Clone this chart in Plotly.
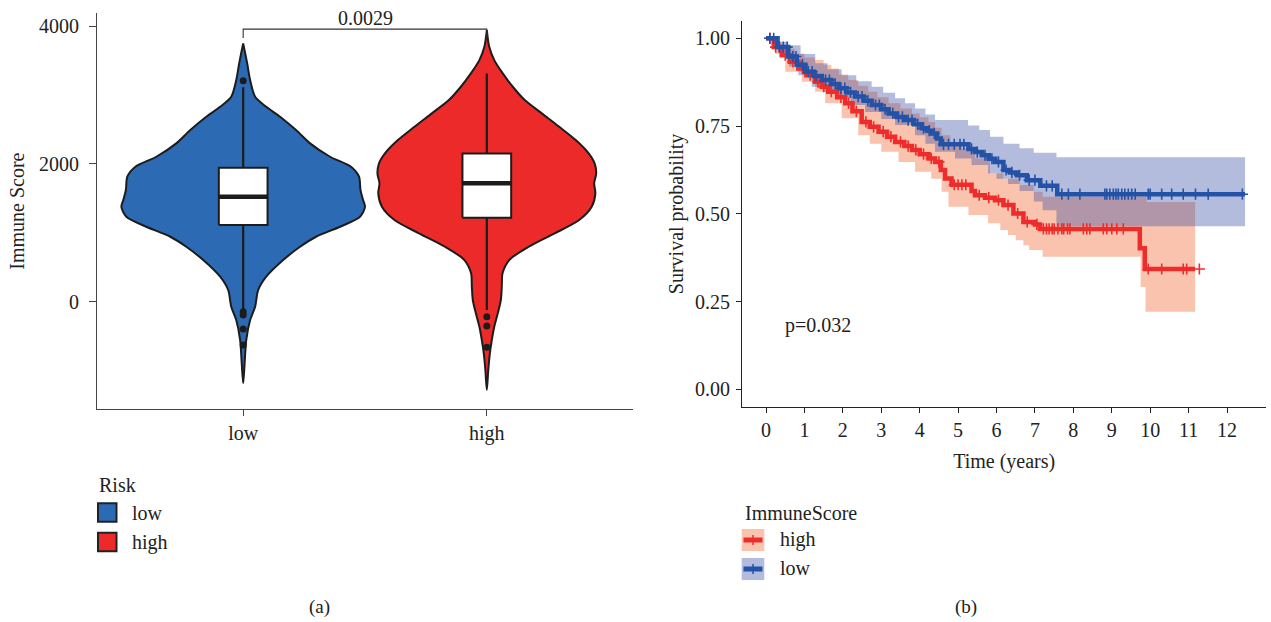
import numpy as np
import plotly.graph_objects as go

W, H = 1271, 622
FONT = "Liberation Serif, Times New Roman, serif"
TXT = "#222222"

# ---------------- (a) Immune score by risk group ----------------
groups = ["low", "high"]
group_pos = [1, 2]
fill_cols = ["#2C6BB3", "#EC2A2A"]

# violin outline: score levels and relative density (shared scale)
low_levels = [-1184, -894, -556, -266, -73, 170, 363, 605, 798, 943, 1088, 1233, 1378,
              1476, 1621, 1814, 1959, 2104, 2298, 2491, 2684, 2829, 2975, 3217, 3459, 3750]
low_density = [0, .012, .025, .057, .098, .123, .189, .328, .467, .598, .795, .959, 1.0,
               .984, .963, .951, .885, .713, .549, .434, .303, .189, .098, .057, .033, 0]
high_levels = [-1281, -991, -749, -556, -363, -168, 25, 218, 412, 605, 798, 992, 1185, 1378,
               1573, 1718, 1863, 2008, 2153, 2346, 2539, 2734, 2927, 3120, 3314, 3507, 3700, 3942]
high_density = [0, .012, .025, .041, .061, .090, .115, .123, .129, .184, .344, .557, .758, .861,
                .891, .881, .898, .885, .836, .730, .594, .451, .311, .213, .131, .061, .020, 0]

# box-plot summaries
q1 = [1113, 1219]
median = [1524, 1718]
q3 = [1944, 2153]
lower_fence = [-120, -120]
upper_fence = [3111, 3314]
low_outliers = [3207, -145, -193, -396, -628]
high_outliers = [-218, -353, -662]

p_wilcox = "0.0029"

# ---------------- (b) Kaplan-Meier by ImmuneScore ----------------
low_time = [0, 0.3, 0.58, 0.8, 1.02, 1.25, 1.45, 1.7, 1.89, 2.1, 2.32, 2.55, 2.75, 3.0, 3.19,
            3.4, 3.62, 3.85, 4.05, 4.2, 4.31, 4.45, 4.55, 5.27, 5.45, 5.62, 5.8, 5.96, 6.18,
            6.35, 6.53, 6.79, 7.14, 7.58, 12.47]
low_surv = [1.0, 0.975, 0.948, 0.925, 0.905, 0.893, 0.881, 0.87, 0.858, 0.846, 0.834, 0.822,
            0.81, 0.798, 0.786, 0.776, 0.767, 0.755, 0.744, 0.737, 0.729, 0.715, 0.698, 0.685,
            0.676, 0.667, 0.657, 0.648, 0.625, 0.618, 0.61, 0.596, 0.58, 0.556, 0.556]
low_up_time = [0, 0.3, 0.58, 0.9, 1.28, 1.6, 1.97, 2.35, 2.75, 3.05, 3.36, 3.62, 3.88, 4.15,
               4.4, 5.26, 5.55, 5.83, 6.18, 6.6, 6.97, 7.56, 12.47]
low_up = [1.0, 0.99, 0.98, 0.955, 0.929, 0.912, 0.895, 0.878, 0.862, 0.845, 0.829, 0.815,
          0.80, 0.783, 0.767, 0.752, 0.739, 0.72, 0.70, 0.687, 0.674, 0.661, 0.661]
low_lo_time = [0, 0.3, 0.6, 0.84, 1.19, 1.5, 1.88, 2.2, 2.58, 3.0, 3.36, 3.88, 4.15, 4.4,
               4.92, 5.35, 5.78, 6.0, 6.3, 6.6, 6.97, 7.2, 7.56, 12.47]
low_lo = [1.0, 0.96, 0.92, 0.895, 0.862, 0.848, 0.83, 0.81, 0.79, 0.77, 0.753, 0.724, 0.70,
          0.677, 0.658, 0.639, 0.615, 0.60, 0.585, 0.565, 0.535, 0.51, 0.465, 0.465]
low_censor = [0.1, 0.2, 0.35, 0.45, 0.55, 0.7, 0.78, 0.95, 1.1, 1.2, 1.3, 1.55, 1.65, 1.8,
              1.95, 2.05, 2.2, 2.4, 2.5, 2.65, 2.85, 2.95, 3.1, 3.3, 3.45, 3.55, 3.7, 3.8,
              3.95, 4.1, 4.25, 4.38, 4.62, 4.75, 4.9, 5.05, 5.15, 5.35, 5.5, 5.7, 5.88, 6.05,
              6.25, 6.4, 6.6, 6.85, 7.0, 7.3, 7.45, 7.70, 7.87, 8.17, 8.82, 8.87, 8.95, 9.04,
              9.11, 9.17, 9.26, 9.34, 9.43, 9.52, 9.61, 9.95, 10.0, 10.30, 10.56, 10.86,
              11.18, 11.51, 12.4]

high_time = [0, 0.2, 0.41, 0.62, 0.84, 1.05, 1.28, 1.45, 1.62, 1.85, 2.06, 2.25, 2.49, 2.7,
             2.93, 3.15, 3.36, 3.6, 3.8, 4.0, 4.23, 4.4, 4.55, 4.66, 4.83, 5.35, 5.44, 5.7,
             5.96, 6.18, 6.44, 6.7, 7.0, 7.13, 9.73, 9.86, 11.17]
high_surv = [1.0, 0.975, 0.952, 0.933, 0.914, 0.895, 0.876, 0.862, 0.848, 0.832, 0.815, 0.792,
             0.762, 0.748, 0.734, 0.72, 0.705, 0.693, 0.682, 0.67, 0.658, 0.648, 0.625, 0.601,
             0.583, 0.565, 0.553, 0.546, 0.539, 0.525, 0.501, 0.477, 0.47, 0.457, 0.402,
             0.343, 0.343]
high_up_time = [0, 0.25, 0.5, 0.75, 1.0, 1.28, 1.5, 1.7, 1.9, 2.14, 2.4, 2.66, 2.9, 3.19, 3.5,
                3.8, 4.0, 4.23, 4.4, 4.57, 4.8, 5.1, 5.44, 5.83, 6.18, 6.6, 6.97, 7.2, 9.91,
                11.17]
high_up = [1.0, 0.98, 0.97, 0.957, 0.945, 0.938, 0.925, 0.914, 0.897, 0.881, 0.865, 0.848,
           0.832, 0.815, 0.80, 0.786, 0.775, 0.762, 0.745, 0.724, 0.705, 0.686, 0.658, 0.615,
           0.60, 0.582, 0.563, 0.549, 0.534, 0.534]
high_lo_time = [0, 0.25, 0.5, 0.93, 1.28, 1.54, 1.97, 2.4, 2.7, 3.0, 3.45, 3.88, 4.3, 4.57,
                4.75, 5.27, 5.78, 6.1, 6.3, 6.5, 6.7, 6.85, 7.2, 9.75, 9.88, 11.17]
high_lo = [1.0, 0.955, 0.905, 0.876, 0.848, 0.815, 0.772, 0.724, 0.70, 0.677, 0.648, 0.62,
           0.60, 0.563, 0.52, 0.497, 0.473, 0.454, 0.44, 0.425, 0.411, 0.397, 0.378, 0.292,
           0.221, 0.221]
high_censor = [0.1, 0.25, 0.35, 0.5, 0.7, 0.8, 0.95, 1.15, 1.35, 1.5, 1.7, 1.95, 2.15, 2.35,
               2.6, 2.8, 3.05, 3.25, 3.5, 3.7, 3.9, 4.1, 4.3, 4.5, 4.9, 5.0, 5.1, 5.2, 5.55,
               5.8, 6.05, 6.3, 6.55, 6.8, 7.05, 7.22, 7.3, 7.37, 7.45, 7.5, 7.6, 7.7, 7.75,
               7.85, 7.91, 8.26, 8.35, 8.43, 8.78, 8.87, 9.0, 9.13, 9.3, 9.95, 10.3, 10.86,
               10.95, 11.28]

p_logrank = "p=0.032"

KM_LINE = {"high": "#EE2C2C", "low": "#2352A6"}
KM_BAND = {"high": "rgba(241,84,24,0.35)", "low": "rgba(41,64,158,0.35)"}

fig = go.Figure()

# ---- violins (panel a) ----
VIOLIN_HALF = 0.5
BOX_HALF = 0.1
OUTLINE = "#1c1c1c"
for pos, lv, dn, col in [(1, low_levels, low_density, fill_cols[0]),
                         (2, high_levels, high_density, fill_cols[1])]:
    lv = np.array(lv, float)
    dn = np.array(dn, float) * VIOLIN_HALF
    xs = np.concatenate([pos + dn, (pos - dn)[::-1]])
    ys = np.concatenate([lv, lv[::-1]])
    fig.add_trace(go.Scatter(x=xs, y=ys, mode="lines", fill="toself", fillcolor=col,
                             line=dict(color=OUTLINE, width=2, shape="spline", smoothing=0.8),
                             xaxis="x", yaxis="y", showlegend=False, hoverinfo="skip"))

# box plots drawn as scatter paths so they sit above the filled violins
for i, pos in enumerate(group_pos):
    # whiskers
    fig.add_trace(go.Scatter(x=[pos, pos, None, pos, pos],
                             y=[lower_fence[i], q1[i], None, q3[i], upper_fence[i]],
                             mode="lines", line=dict(color=OUTLINE, width=2.2),
                             xaxis="x", yaxis="y", showlegend=False, hoverinfo="skip"))
    # box body
    fig.add_trace(go.Scatter(x=[pos - BOX_HALF, pos + BOX_HALF, pos + BOX_HALF,
                                pos - BOX_HALF, pos - BOX_HALF],
                             y=[q1[i], q1[i], q3[i], q3[i], q1[i]],
                             mode="lines", fill="toself", fillcolor="white",
                             line=dict(color=OUTLINE, width=2),
                             xaxis="x", yaxis="y", showlegend=False, hoverinfo="skip"))
    # median
    fig.add_trace(go.Scatter(x=[pos - BOX_HALF, pos + BOX_HALF], y=[median[i], median[i]],
                             mode="lines", line=dict(color=OUTLINE, width=4.5),
                             xaxis="x", yaxis="y", showlegend=False, hoverinfo="skip"))

for pos, outs in [(1, low_outliers), (2, high_outliers)]:
    fig.add_trace(go.Scatter(x=[pos] * len(outs), y=outs, mode="markers",
                             marker=dict(color=OUTLINE, size=7), xaxis="x", yaxis="y",
                             showlegend=False, hoverinfo="skip"))

# significance bracket
br_top, br_tip = 3957, 3826
fig.add_trace(go.Scatter(x=[1, 1, 2, 2], y=[br_tip, br_top, br_top, br_tip], mode="lines",
                         line=dict(color="#333333", width=1.1), xaxis="x", yaxis="y",
                         showlegend=False, hoverinfo="skip"))

# ---- survival curves (panel b) ----
def step_value(times, vals, t):
    idx = np.searchsorted(np.array(times), t, side="right") - 1
    return np.array(vals)[np.clip(idx, 0, len(vals) - 1)]

for key, lt, lo, ut, up in [("high", high_lo_time, high_lo, high_up_time, high_up),
                            ("low", low_lo_time, low_lo, low_up_time, low_up)]:
    fig.add_trace(go.Scatter(x=lt, y=lo, mode="lines", line=dict(width=0, shape="hv"),
                             xaxis="x2", yaxis="y2", showlegend=False, hoverinfo="skip"))
    fig.add_trace(go.Scatter(x=ut, y=up, mode="lines", line=dict(width=0, shape="hv"),
                             fill="tonexty", fillcolor=KM_BAND[key],
                             xaxis="x2", yaxis="y2", showlegend=False, hoverinfo="skip"))

for key, tt, ss, cens in [("high", high_time, high_surv, high_censor),
                          ("low", low_time, low_surv, low_censor)]:
    fig.add_trace(go.Scatter(x=tt, y=ss, mode="lines",
                             line=dict(color=KM_LINE[key], width=4.5, shape="hv"),
                             xaxis="x2", yaxis="y2", showlegend=False, hoverinfo="skip"))
    cy = step_value(tt, ss, np.array(cens))
    fig.add_trace(go.Scatter(x=cens, y=cy, mode="markers",
                             marker=dict(symbol="cross-thin", size=8,
                                         line=dict(color=KM_LINE[key], width=1.6)),
                             xaxis="x2", yaxis="y2", showlegend=False, hoverinfo="skip"))

# ---- axes ----
def px_x(v):
    return v / W

def px_y(v):
    return 1 - v / H

tickfont = dict(family=FONT, size=20, color=TXT)
axis_common = dict(showgrid=False, zeroline=False, showline=True, ticks="outside",
                   tickfont=tickfont, mirror=False)

fig.update_layout(
    width=W, height=H, margin=dict(l=0, r=0, t=0, b=0),
    paper_bgcolor="white", plot_bgcolor="white",
    font=dict(family=FONT, size=20, color=TXT),
    xaxis=dict(domain=[px_x(97), px_x(633)], range=[0.4, 2.6],
               tickvals=group_pos, ticktext=groups, linecolor="#444444", linewidth=1.2,
               tickcolor="#444444", ticklen=6, ticklabelstandoff=0, anchor="y", **axis_common),
    yaxis=dict(domain=[px_y(409), px_y(13.3)], range=[-1557, 4186],
               tickvals=[0, 2000, 4000], linecolor="#444444", linewidth=1.2,
               tickcolor="#444444", ticklen=7, ticklabelstandoff=6, anchor="x",
               title=dict(text="Immune Score", font=dict(family=FONT, size=20, color=TXT),
                          standoff=8), **axis_common),
    xaxis2=dict(domain=[px_x(742.2), px_x(1266.2)], range=[-0.62, 13.02],
                tickvals=list(range(0, 13)), linecolor="#222222", linewidth=1.2,
                tickcolor="#222222", ticklen=5, ticklabelstandoff=0, anchor="y2",
                title=dict(text="Time (years)", font=dict(family=FONT, size=20, color=TXT),
                           standoff=13), **axis_common),
    yaxis2=dict(domain=[px_y(407), px_y(20.75)], range=[-0.05, 1.05],
                tickvals=[0, 0.25, 0.5, 0.75, 1.0], tickformat=".2f",
                linecolor="#222222", linewidth=1.2, tickcolor="#222222", ticklen=5,
                ticklabelstandoff=2, anchor="x2",
                title=dict(text="Survival probability", font=dict(family=FONT, size=20, color=TXT),
                           standoff=6), **axis_common),
)

ann = []
ann.append(dict(x=1.5, y=4118, xref="x", yref="y", text=p_wilcox, showarrow=False,
                font=dict(size=20), xanchor="center", yanchor="middle"))
ann.append(dict(x=0.44, y=0.183, xref="x2", yref="y2", text=p_logrank, showarrow=False,
                font=dict(size=20), xanchor="left", yanchor="middle"))

# legend (a)
ann.append(dict(x=px_x(97), y=px_y(485), xref="paper", yref="paper", text="Risk",
                showarrow=False, xanchor="left", yanchor="middle"))
shapes = []
for lbl, col, yc in [("low", fill_cols[0], 512.5), ("high", fill_cols[1], 542)]:
    shapes.append(dict(type="rect", xref="paper", yref="paper",
                       x0=px_x(98), x1=px_x(116.5), y0=px_y(yc - 9.3), y1=px_y(yc + 9.3),
                       fillcolor=col, line=dict(color="#222222", width=2)))
    ann.append(dict(x=px_x(130), y=px_y(yc), xref="paper", yref="paper", text=lbl,
                    showarrow=False, xanchor="left", yanchor="middle"))

# legend (b)
ann.append(dict(x=px_x(743), y=px_y(513), xref="paper", yref="paper", text="ImmuneScore",
                showarrow=False, xanchor="left", yanchor="middle"))
for key, yc in [("high", 540), ("low", 569)]:
    shapes.append(dict(type="rect", xref="paper", yref="paper",
                       x0=px_x(741.7), x1=px_x(764.3), y0=px_y(yc - 11), y1=px_y(yc + 11),
                       fillcolor=KM_BAND[key], line=dict(width=0)))
    shapes.append(dict(type="line", xref="paper", yref="paper",
                       x0=px_x(743.5), x1=px_x(762.5), y0=px_y(yc), y1=px_y(yc),
                       line=dict(color=KM_LINE[key], width=5)))
    shapes.append(dict(type="line", xref="paper", yref="paper",
                       x0=px_x(753), x1=px_x(753), y0=px_y(yc - 5), y1=px_y(yc + 5),
                       line=dict(color=KM_LINE[key], width=1.5)))
    ann.append(dict(x=px_x(778), y=px_y(yc - 1), xref="paper", yref="paper", text=key,
                    showarrow=False, xanchor="left", yanchor="middle"))

# panel captions
ann.append(dict(x=px_x(319), y=px_y(606.5), xref="paper", yref="paper", text="(a)",
                showarrow=False, xanchor="center", yanchor="middle", font=dict(size=19)))
ann.append(dict(x=px_x(966), y=px_y(606.5), xref="paper", yref="paper", text="(b)",
                showarrow=False, xanchor="center", yanchor="middle", font=dict(size=19)))

fig.update_layout(annotations=ann, shapes=shapes)
fig.write_html("out.html")
